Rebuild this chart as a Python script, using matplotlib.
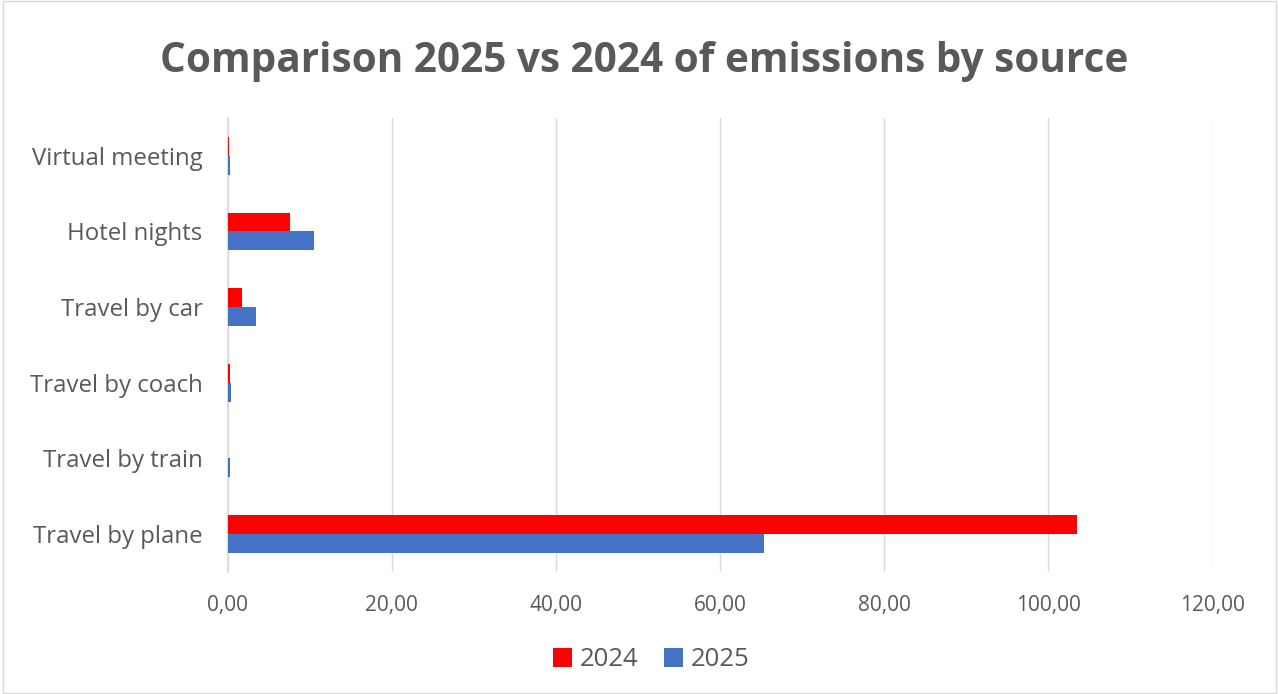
import matplotlib.pyplot as plt
import numpy as np

categories = ["Travel by plane", "Travel by train", "Travel by coach",
              "Travel by car", "Hotel nights", "Virtual meeting"]
values_2024 = [103.5, 0.08, 0.25, 1.8, 7.6, 0.12]
values_2025 = [65.4, 0.3, 0.4, 3.5, 10.5, 0.3]
xticks = [0, 20, 40, 60, 80, 100, 120]

plt.rcParams['font.family'] = ['Open Sans', 'DejaVu Sans']
grey = '#595959'

fig = plt.figure(figsize=(12.79, 6.94), dpi=100)
ax = fig.add_axes([0.178, 0.176, 0.770, 0.654])

y = np.arange(len(categories))
h = 0.25
ax.barh(y + h / 2, values_2024, height=h, color='#ff0000', label='2024', zorder=3)
ax.barh(y - h / 2, values_2025, height=h, color='#4472c4', label='2025', zorder=3)

ax.set_yticks(y)
ax.set_yticklabels(categories, fontsize=17.3, color=grey)
ax.set_ylim(-0.5, len(categories) - 0.5)
ax.set_xlim(0, 120)
ax.set_xticks(xticks)
ax.set_xticklabels([f"{v:.2f}".replace('.', ',') for v in xticks], fontsize=15, color=grey)
ax.tick_params(axis='y', length=0, pad=18)
ax.tick_params(axis='x', length=0, pad=17)
ax.xaxis.grid(True, color='#d9d9d9', linewidth=1, zorder=0)

for s in ['top', 'right', 'bottom']:
    ax.spines[s].set_visible(False)
ax.spines['left'].set_color('#d9d9d9')
ax.spines['left'].set_linewidth(1.2)

fig.text(0.504, 0.912, "Comparison 2025 vs 2024 of emissions by source",
         ha='center', va='center', fontsize=29.2, fontweight='bold', color=grey)

ax.legend(loc='upper center', bbox_to_anchor=(0.43, -0.115), ncol=2, frameon=False,
          fontsize=18.5, handlelength=0.75, handleheight=0.75, columnspacing=1.0,
          handletextpad=0.3, labelcolor=grey)

fig.patches.append(plt.Rectangle((0.002, 0.002), 0.996, 0.996, transform=fig.transFigure,
                                 fill=False, edgecolor='#d9d9d9', linewidth=1))

fig.savefig("out.png", dpi=100)
